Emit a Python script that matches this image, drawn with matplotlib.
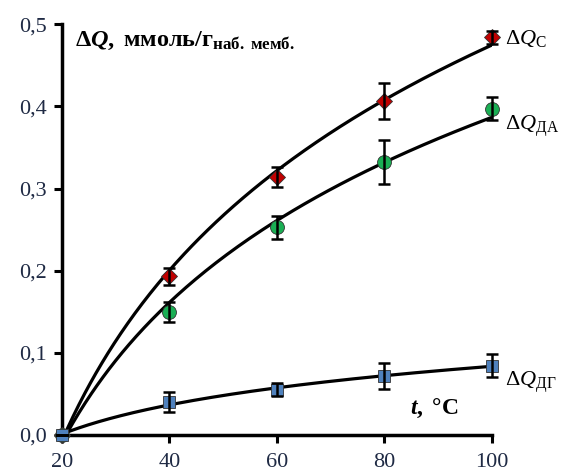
import numpy as np
import matplotlib
matplotlib.use("Agg")
import matplotlib.pyplot as plt

plt.rcParams["font.family"] = ["Liberation Serif", "DejaVu Serif"]
plt.rcParams["mathtext.fontset"] = "custom"
plt.rcParams["mathtext.rm"] = "Liberation Serif"
plt.rcParams["mathtext.it"] = "Liberation Serif:italic"
plt.rcParams["mathtext.bf"] = "Liberation Serif:bold"
plt.rcParams["mathtext.bfit"] = "Liberation Serif:bold:italic"

# temperature, degC
t = [20, 40, 60, 80, 100]

# dQ values, mmol/g
dq_c = [0.0, 0.193, 0.314, 0.407, 0.484]
dq_c_err = [0.0, 0.010, 0.012, 0.022, 0.008]
dq_da = [0.0, 0.150, 0.253, 0.332, 0.397]
dq_da_err = [0.0, 0.012, 0.014, 0.027, 0.014]
dq_dg = [0.0, 0.040, 0.055, 0.072, 0.084]
dq_dg_err = [0.0, 0.012, 0.008, 0.016, 0.014]

xticks = [20, 40, 60, 80, 100]
yticks = [0.0, 0.1, 0.2, 0.3, 0.4, 0.5]

fig = plt.figure(figsize=(5.61, 4.74), dpi=100)
ax = fig.add_axes([0.1105, 0.0823, 0.7665, 0.8667])


def log_trend(x, y):
    # logarithmic trend line y = a*ln(t) + b, like the spreadsheet one
    x = np.asarray(x, float)
    a, b = np.polyfit(np.log(x), np.asarray(y, float), 1)
    xx = np.exp(np.linspace(np.log(x.min()), np.log(x.max()), 200))
    return xx, a * np.log(xx) + b


for y in (dq_c, dq_da, dq_dg):
    xx, yy = log_trend(t, y)
    ax.plot(xx, yy, color="black", lw=2.3, zorder=2)

series = [
    (dq_c, dq_c_err, "D", 8, "#C00000"),
    (dq_da, dq_da_err, "o", 10, "#1AAF54"),
    (dq_dg, dq_dg_err, "s", 8, "#4F81BD"),
]
for y, err, mk, ms, col in series:
    ax.plot(t, y, linestyle="none", marker=mk, markersize=ms, color=col,
            markeredgecolor="#333333", markeredgewidth=0.6, zorder=3, clip_on=False)
    ax.errorbar(t, y, yerr=err, fmt="none", ecolor="black", elinewidth=1.8,
                capsize=4, capthick=1.8, zorder=4, clip_on=False)

ax.set_xlim(20, 100)
ax.set_ylim(0, 0.5)
ax.set_xticks(xticks)
ax.set_yticks(yticks)
ax.set_yticklabels([f"{v:.1f}".replace(".", ",") for v in yticks])
ax.tick_params(direction="out", length=6, width=2.2, labelsize=16,
               labelcolor="#1F2A44")
ax.tick_params(axis="x", pad=7)
ax.tick_params(axis="y", pad=5)
for s in ("top", "right"):
    ax.spines[s].set_visible(False)
for s in ("left", "bottom"):
    ax.spines[s].set_linewidth(2.5)

ax.text(0.03, 0.985, r"$\mathbf{\Delta}\mathbfit{Q}\mathbf{,\ ммоль/г}_{\mathbf{наб.\ мемб.}}$",
        transform=ax.transAxes, fontsize=17.5, va="top", ha="left")
ax.text(1.03, 0.965, r"$\Delta\mathit{Q}_{\mathrm{С}}$", transform=ax.transAxes,
        fontsize=16, va="center", ha="left")
ax.text(1.03, 0.752, r"$\Delta\mathit{Q}_{\mathrm{ДА}}$", transform=ax.transAxes,
        fontsize=16, va="center", ha="left")
ax.text(1.03, 0.128, r"$\Delta\mathit{Q}_{\mathrm{ДГ}}$", transform=ax.transAxes,
        fontsize=16, va="center", ha="left")
ax.text(0.81, 0.065, r"$\mathbfit{t}\mathbf{,\ °C}$", transform=ax.transAxes,
        fontsize=17, va="center", ha="left")

fig.savefig("out.png", dpi=100)
